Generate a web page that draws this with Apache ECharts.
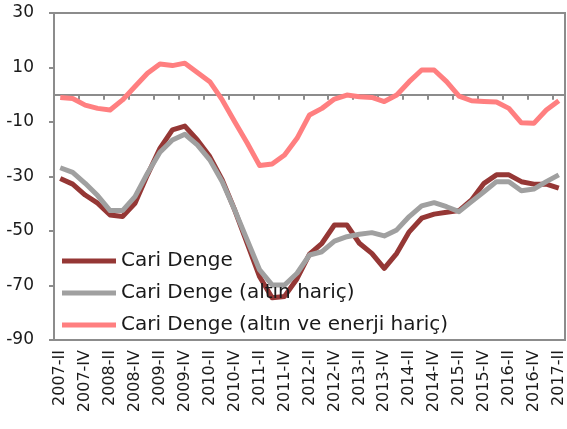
<!DOCTYPE html>
<html>
<head>
<meta charset="utf-8">
<script src="https://cdn.jsdelivr.net/npm/echarts@6/dist/echarts.min.js"></script>
<style>
  html, body { margin: 0; padding: 0; background: #fff; }
  #chart { width: 567px; height: 429px; }
</style>
</head>
<body>
<div id="chart"></div>
<script>
// quarters 2007-II .. 2017-II
const quarters = [
  '2007-II', '2007-III', '2007-IV',
  '2008-I', '2008-II', '2008-III', '2008-IV',
  '2009-I', '2009-II', '2009-III', '2009-IV',
  '2010-I', '2010-II', '2010-III', '2010-IV',
  '2011-I', '2011-II', '2011-III', '2011-IV',
  '2012-I', '2012-II', '2012-III', '2012-IV',
  '2013-I', '2013-II', '2013-III', '2013-IV',
  '2014-I', '2014-II', '2014-III', '2014-IV',
  '2015-I', '2015-II', '2015-III', '2015-IV',
  '2016-I', '2016-II', '2016-III', '2016-IV',
  '2017-I', '2017-II'
]

const cariDenge = [
  -30.7, -32.8, -36.8,
  -39.8, -44.1, -44.7, -39.8,
  -29.4, -19.7, -12.9, -11.5,
  -16.6, -22.7, -31.3, -42.3,
  -54.5, -66.8, -74.5, -74.0,
  -67.5, -58.5, -54.5, -47.8,
  -47.8, -54.5, -58.2, -63.7,
  -58.2, -50.3, -45.3, -43.8,
  -43.1, -42.5, -38.6, -32.5,
  -29.4, -29.4, -31.9, -32.8,
  -32.8, -34.3
]

const altinHaric = [
  -26.8, -28.5, -32.5,
  -37.0, -42.5, -42.5, -37.4,
  -28.8, -21.1, -16.6, -14.5,
  -18.4, -23.9, -31.9, -42.3,
  -53.3, -64.3, -69.8, -69.8,
  -65.5, -58.8, -57.6, -53.7,
  -52.1, -51.2, -50.6, -51.8,
  -49.6, -44.7, -40.8, -39.6,
  -41.1, -42.9, -39.2, -35.6,
  -31.9, -31.9, -35.2, -34.6,
  -31.9, -29.4
]

const altinEnerjiHaric = [
  -1.0, -1.4, -3.8,
  -5.0, -5.6, -1.9, 3.0,
  7.9, 11.3, 10.7, 11.6,
  8.2, 4.8, -1.9, -9.9,
  -17.7, -26.0, -25.4, -22.1,
  -16.0, -7.4, -5.0, -1.6,
  -0.1, -0.7, -1.0, -2.5,
  -0.1, 4.8, 9.1, 9.1,
  4.8, -0.5, -2.2, -2.5,
  -2.7, -5.0, -10.3, -10.5,
  -5.6, -2.2
]

const seriesNames = ['Cari Denge', 'Cari Denge (altın hariç)', 'Cari Denge (altın ve enerji hariç)']
const seriesColors = ['#953735', '#a0a0a0', '#ff7f80']
const yTicks = { min: -90, max: 30, interval: 20 }

const FONT = 'DejaVu Sans'
const AXIS_GRAY = '#8c8c8c'

const gridTop = 13
const gridBottom = 89
const plotH = 429 - gridTop - gridBottom
// distance from the bottom edge up to the zero line
const zeroOffset = plotH * (0 - yTicks.min) / (yTicks.max - yTicks.min)

const chart = echarts.init(document.getElementById('chart'))

const seriesData = [cariDenge, altinHaric, altinEnerjiHaric]

chart.setOption({
  animation: false,
  grid: {
    left: 54, right: 2, top: gridTop, bottom: gridBottom,
    show: true, borderColor: AXIS_GRAY, borderWidth: 2
  },
  legend: {
    orient: 'vertical',
    left: 62,
    top: 251,
    padding: 0,
    itemGap: 12,
    itemWidth: 54,
    itemHeight: 5,
    icon: 'rect',
    textStyle: { fontFamily: FONT, fontSize: 20, color: '#1a1a1a' },
    data: seriesNames
  },
  xAxis: [
    {
      type: 'category',
      data: quarters,
      position: 'bottom',
      boundaryGap: true,
      axisLine: { onZero: false, lineStyle: { color: AXIS_GRAY, width: 2 } },
      axisTick: { show: false },
      axisLabel: {
        interval: 1,
        rotate: 90,
        margin: 10,
        fontFamily: FONT,
        fontSize: 16,
        color: '#1a1a1a'
      },
      splitLine: { show: false }
    },
    {
      // zero line with downward ticks every two quarters
      type: 'category',
      data: quarters,
      position: 'bottom',
      offset: -zeroOffset,
      boundaryGap: true,
      axisLine: { onZero: false, lineStyle: { color: AXIS_GRAY, width: 2 } },
      axisTick: { show: true, interval: 1, length: 5, lineStyle: { color: AXIS_GRAY, width: 2 } },
      axisLabel: { show: false },
      splitLine: { show: false }
    }
  ],
  yAxis: {
    type: 'value',
    min: yTicks.min,
    max: yTicks.max,
    interval: yTicks.interval,
    axisLine: { show: true, lineStyle: { color: AXIS_GRAY, width: 2 } },
    axisTick: { show: true, length: 5, lineStyle: { color: AXIS_GRAY, width: 2 } },
    axisLabel: { margin: 20, fontFamily: FONT, fontSize: 17, color: '#1a1a1a' },
    splitLine: { show: false }
  },
  series: seriesNames.map((name, i) => ({
    name,
    type: 'line',
    xAxisIndex: 0,
    data: seriesData[i],
    symbol: 'none',
    lineStyle: { width: 5, color: seriesColors[i], join: 'round' },
    itemStyle: { color: seriesColors[i] }
  }))
})
</script>
</body>
</html>
